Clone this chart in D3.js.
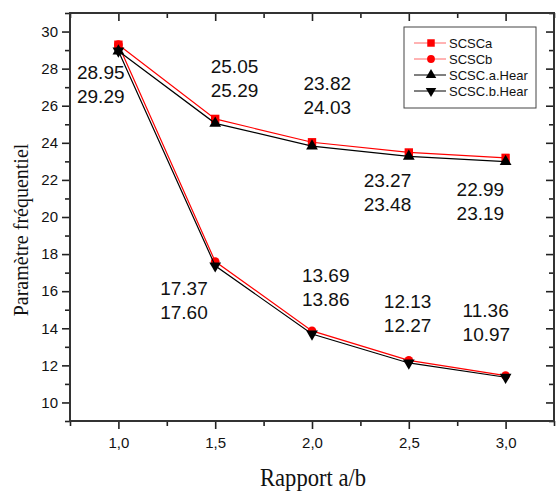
<!DOCTYPE html>
<html>
<head>
<meta charset="utf-8">
<script src="https://cdn.jsdelivr.net/npm/d3@7"></script>
<style>
    body { margin: 0; background: #fff; }
    svg text { font-family: Arial, "Liberation Sans", sans-serif; fill: #111; }
    .title { font-family: "Times New Roman", "Liberation Serif", serif; }
</style>
</head>
<body>
<div id="chart"></div>
<script>
/* jshint esversion: 6 */

// chart values
var ratios      = [1.0, 1.5, 2.0, 2.5, 3.0];
var scscA       = [29.29, 25.29, 24.03, 23.48, 23.19];
var scscB       = [29.29, 17.60, 13.86, 12.27, 11.45];
var scscAHear   = [28.95, 25.05, 23.82, 23.27, 22.99];
var scscBHear   = [28.95, 17.37, 13.69, 12.13, 11.36];
var seriesNames = ["SCSCa", "SCSCb", "SCSC.a.Hear", "SCSC.b.Hear"];

var xTicks      = [1.0, 1.5, 2.0, 2.5, 3.0];
var xMinorTicks = [0.75, 1.25, 1.75, 2.25, 2.75, 3.25];
var yTicks      = [10, 12, 14, 16, 18, 20, 22, 24, 26, 28, 30];
var yMinorTicks = [9, 11, 13, 15, 17, 19, 21, 23, 25, 27, 29, 31];

// value labels written on the plot, anchored in data units
var labelTop    = ["28.95", "25.05", "23.82", "23.27", "22.99", "17.37", "13.69", "12.13", "11.36"];
var labelBottom = ["29.29", "25.29", "24.03", "23.48", "23.19", "17.60", "13.86", "12.27", "10.97"];
var labelX      = [0.786, 1.477, 1.956, 2.267, 2.747, 1.216, 1.948, 2.371, 2.778];
var labelY      = [27.44, 27.76, 26.85, 21.62, 21.14, 15.79, 16.49, 15.09, 14.60];

(function()
{
    "use strict";

    var W = 556, H = 491;
    var left = 70, right = 554, top = 13, bottom = 421;

    var svg = d3.select("#chart")
                .append("svg")
                .attr("width", W)
                .attr("height", H);

    // #########################################################################
    var x = d3.scaleLinear().domain([0.75, 3.25]).range([left, right]);
    var y = d3.scaleLinear().domain([9, 31]).range([bottom, top]);
    var fmtX = d3.formatLocale({decimal: ",", thousands: ".", grouping: [3], currency: ["", ""]}).format(".1f");
    // #########################################################################

    // axes: outer ticks on left/bottom, inner ticks on top/right
    // #########################################################################
    function drawAxis(axis, tx, ty, labels)
    {
        var g = svg.append("g")
                   .attr("transform", `translate(${tx},${ty})`)
                   .call(axis);
        g.select(".domain").remove();
        g.selectAll("line").attr("stroke", "#222").attr("stroke-width", 1.6);
        if (!labels) g.selectAll("text").remove();
        return g;
    }

    var gx = drawAxis(d3.axisBottom(x).tickValues(xTicks).tickSize(8).tickPadding(8).tickFormat(fmtX), 0, bottom, true);
    gx.selectAll("text").style("font-size", "15px");
    drawAxis(d3.axisBottom(x).tickValues(xMinorTicks).tickSize(5), 0, bottom, false);
    drawAxis(d3.axisBottom(x).tickValues(xTicks).tickSize(8), 0, top, false);
    drawAxis(d3.axisBottom(x).tickValues(xMinorTicks).tickSize(5), 0, top, false);

    var gy = drawAxis(d3.axisLeft(y).tickValues(yTicks).tickSize(8).tickPadding(4), left, 0, true);
    gy.selectAll("text").style("font-size", "15px");
    drawAxis(d3.axisLeft(y).tickValues(yMinorTicks).tickSize(5), left, 0, false);
    drawAxis(d3.axisLeft(y).tickValues(yTicks).tickSize(8), right, 0, false);
    drawAxis(d3.axisLeft(y).tickValues(yMinorTicks).tickSize(5), right, 0, false);

    svg.append("rect")
       .attr("x", left)
       .attr("y", top)
       .attr("width", right - left)
       .attr("height", bottom - top)
       .attr("fill", "none")
       .attr("stroke", "#333")
       .attr("stroke-width", 2);
    // #########################################################################

    // #########################################################################
    var series = [
        {name: seriesNames[0], values: scscA,     color: "#ff0000", symbol: d3.symbolSquare,   size: 70, rot: 0},
        {name: seriesNames[1], values: scscB,     color: "#ff0000", symbol: d3.symbolCircle,   size: 60, rot: 0},
        {name: seriesNames[2], values: scscAHear, color: "#000000", symbol: d3.symbolTriangle, size: 60, rot: 0},
        {name: seriesNames[3], values: scscBHear, color: "#000000", symbol: d3.symbolTriangle, size: 60, rot: 180}
    ];

    var line = d3.line()
                 .x((d) => x(d[0]))
                 .y((d) => y(d[1]));

    series.forEach(function(s) {
        var pts = ratios.map((r, i) => [r, s.values[i]]);

        svg.append("path")
           .datum(pts)
           .attr("d", line)
           .attr("fill", "none")
           .attr("stroke", s.color)
           .attr("stroke-width", 1.2);

        svg.append("g")
           .selectAll("path")
           .data(pts)
           .enter()
           .append("path")
           .attr("d", d3.symbol().type(s.symbol).size(s.size))
           .attr("transform", (d) => `translate(${x(d[0])},${y(d[1])}) rotate(${s.rot})`)
           .attr("fill", s.color);
    });
    // #########################################################################

    // value labels
    // #########################################################################
    var ann = svg.append("g").style("font-size", "19px");
    labelTop.forEach(function(t, i) {
        var lx = x(labelX[i]), ly = y(labelY[i]);
        ann.append("text").attr("x", lx).attr("y", ly).text(t);
        ann.append("text").attr("x", lx).attr("y", ly + 24).text(labelBottom[i]);
    });
    // #########################################################################

    // legend
    // #########################################################################
    var legend = svg.append("g").attr("transform", "translate(404,27)");
    legend.append("rect")
          .attr("width", 132)
          .attr("height", 81)
          .attr("fill", "#fff")
          .attr("stroke", "#444")
          .attr("stroke-width", 1);

    series.forEach(function(s, i) {
        var ry = 16 + i * 16;
        legend.append("line")
              .attr("x1", 10).attr("x2", 42)
              .attr("y1", ry).attr("y2", ry)
              .attr("stroke", s.color)
              .attr("stroke-opacity", s.color === "#ff0000" ? 0.6 : 1)
              .attr("stroke-width", 1);
        legend.append("path")
              .attr("d", d3.symbol().type(s.symbol).size(s.size * 0.8))
              .attr("transform", `translate(27,${ry}) rotate(${s.rot})`)
              .attr("fill", s.color);
        legend.append("text")
              .attr("x", 45)
              .attr("y", ry)
              .attr("dy", "0.35em")
              .style("font-size", "13px")
              .text(s.name);
    });
    // #########################################################################

    // axis titles
    // #########################################################################
    svg.append("text")
       .attr("class", "title")
       .attr("x", 313)
       .attr("y", 486)
       .attr("text-anchor", "middle")
       .attr("textLength", 106)
       .attr("lengthAdjust", "spacingAndGlyphs")
       .style("font-size", "26px")
       .text("Rapport a/b");

    svg.append("text")
       .attr("class", "title")
       .attr("transform", "translate(28,230) rotate(-90)")
       .attr("text-anchor", "middle")
       .style("font-size", "20px")
       .text("Paramètre fréquentiel");
    // #########################################################################
}
)();
// #############################################################################
</script>
</body>
</html>
